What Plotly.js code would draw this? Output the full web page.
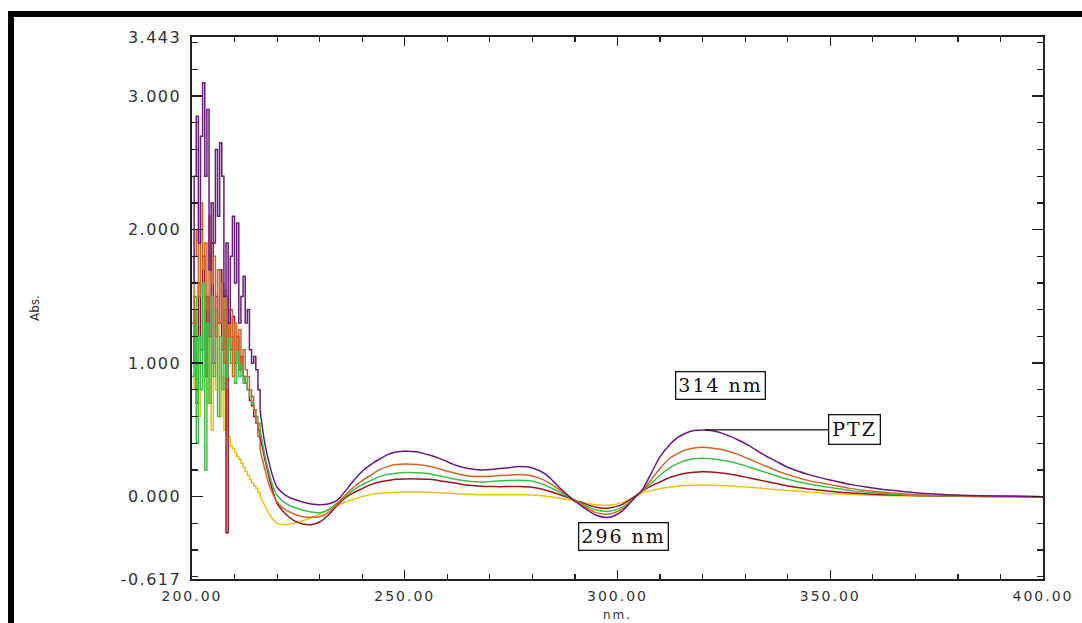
<!DOCTYPE html>
<html>
<head>
<meta charset="utf-8">
<script src="https://cdn.plot.ly/plotly-3.0.1.min.js"></script>
<style>
  html, body { margin: 0; padding: 0; background: #ffffff; }
  #chart { width: 1082px; height: 623px; }
  .xtick text, .ytick text { letter-spacing: 1.5px; }
  .xtick text { letter-spacing: 2px; }
  .annotation-text { letter-spacing: 2px; }
</style>
</head>
<body>
<div id="chart"></div>
<script>
// ---------- DATA ----------
const seriesNames = ["S1", "S2", "S3", "S4", "S5"];
const seriesColors = ["#6a1a7e", "#d2642a", "#3fbf4a", "#9a1620", "#e8c21a"];

// noisy low-wavelength region (nm)
const wlNoise = [200, 200.5, 201, 201.5, 202, 202.5, 203, 203.5, 204, 204.5, 205, 205.5, 206, 206.5, 207, 207.5,
                 208, 208.5, 209, 209.5, 210, 210.5, 211, 211.5, 212, 212.5, 213, 213.5, 214, 214.5, 215, 215.5, 216];

const purpleNoise = [1.6, 2.4, 2.85, 1.9, 2.7, 3.1, 2.4, 2.9, 1.7, 2.2, 1.9, 2.6, 2.1, 2.65, 2.4, 1.5,
                     1.9, 1.3, 1.8, 2.1, 1.6, 2.05, 1.3, 1.5, 1.65, 1.3, 1.4, 1.1, 1.0, 1.05, 0.95, 0.8, 0.65];
const orangeNoise = [1.3, 1.8, 2.0, 1.5, 2.2, 1.7, 1.9, 1.4, 2.1, 1.6, 1.8, 1.2, 1.7, 1.3, 1.6, 1.0,
                     1.5, 1.2, 1.4, 0.9, 1.3, 1.1, 1.25, 1.0, 1.1, 0.95, 0.9, 0.8, 0.75, 0.65, 0.55, 0.45, 0.35];
const greenNoise  = [0.9, 1.5, 0.4, 1.2, 0.8, 1.6, 0.2, 1.3, 0.7, 1.5, 0.9, 1.4, 0.6, 1.2, 0.8, 1.55,
                     0.9, 1.3, 1.0, 1.2, 0.85, 1.1, 0.9, 1.0, 0.85, 0.9, 0.8, 0.75, 0.7, 0.65, 0.6, 0.55, 0.5];
const redNoise    = [1.0, 1.4, 0.7, 1.6, 1.1, 1.8, 0.9, 1.5, 1.2, 1.9, 1.0, 1.5, 1.3, 1.7, 1.1, 1.4,
                     -0.27, 1.3, 1.1, 1.35, 1.0, 1.2, 0.95, 1.05, 0.9, 0.85, 0.8, 0.72, 0.68, 0.6, 0.55, 0.5, 0.45];
const yellowNoise = [1.2, 0.8, 1.4, 0.6, 1.1, 0.9, 1.5, 0.7, 1.2, 0.5, 1.0, 0.8, 1.3, 0.6, 0.9, 0.5,
                     0.8, 0.45, 0.38, 0.36, 0.33, 0.3, 0.28, 0.25, 0.22, 0.19, 0.16, 0.13, 0.1, 0.08, 0.06, 0.03, 0.0];

// smooth region (nm)
const wlSmooth = [216, 217, 218, 219, 220, 222, 224, 226, 228, 230,
                  232, 234, 236, 238, 240, 242, 244, 246, 248, 250,
                  253, 256, 259, 262, 265, 268, 271, 274, 277, 280,
                  283, 286, 289, 292, 295, 298, 301, 304, 306, 308,
                  310, 312, 314, 316, 318, 320, 322, 325, 328, 331,
                  334, 337, 340, 345, 350, 355, 360, 365, 370, 380,
                  390, 400];

const purpleSmooth = [0.65, 0.42, 0.27, 0.15, 0.07, 0.01, -0.02, -0.04, -0.055, -0.06,
                      -0.055, -0.03, 0.04, 0.12, 0.19, 0.24, 0.28, 0.315, 0.335, 0.34,
                      0.335, 0.31, 0.275, 0.235, 0.21, 0.20, 0.205, 0.215, 0.225, 0.215,
                      0.17, 0.08, -0.01, -0.08, -0.14, -0.155, -0.11, -0.01, 0.06, 0.18,
                      0.30, 0.38, 0.44, 0.475, 0.495, 0.50, 0.495, 0.47, 0.43, 0.38,
                      0.32, 0.27, 0.22, 0.165, 0.125, 0.09, 0.065, 0.045, 0.03, 0.012,
                      0.004, 0.0];
const orangeSmooth = [0.35, 0.22, 0.10, 0.02, -0.04, -0.10, -0.13, -0.15, -0.155, -0.15,
                      -0.12, -0.06, 0.01, 0.07, 0.12, 0.16, 0.20, 0.225, 0.24, 0.245,
                      0.24, 0.225, 0.20, 0.175, 0.155, 0.15, 0.155, 0.16, 0.165, 0.155,
                      0.12, 0.06, -0.005, -0.07, -0.12, -0.13, -0.095, -0.01, 0.05, 0.13,
                      0.21, 0.28, 0.32, 0.35, 0.365, 0.37, 0.365, 0.35, 0.32, 0.28,
                      0.24, 0.20, 0.165, 0.12, 0.09, 0.06, 0.04, 0.025, 0.015, 0.006,
                      0.002, 0.0];
const greenSmooth  = [0.50, 0.33, 0.19, 0.08, 0.01, -0.05, -0.08, -0.10, -0.115, -0.12,
                      -0.10, -0.05, 0.0, 0.05, 0.09, 0.12, 0.15, 0.165, 0.175, 0.18,
                      0.178, 0.17, 0.15, 0.13, 0.115, 0.11, 0.115, 0.12, 0.122, 0.115,
                      0.085, 0.04, -0.01, -0.06, -0.10, -0.11, -0.08, -0.01, 0.05, 0.10,
                      0.16, 0.21, 0.245, 0.27, 0.283, 0.287, 0.283, 0.27, 0.25, 0.22,
                      0.19, 0.16, 0.13, 0.095, 0.068, 0.045, 0.03, 0.018, 0.01, 0.004,
                      0.001, 0.0];
const redSmooth    = [0.45, 0.30, 0.16, 0.04, -0.05, -0.13, -0.18, -0.205, -0.21, -0.19,
                      -0.14, -0.07, -0.01, 0.03, 0.06, 0.09, 0.11, 0.12, 0.13, 0.133,
                      0.133, 0.13, 0.115, 0.10, 0.085, 0.077, 0.075, 0.075, 0.076, 0.07,
                      0.05, 0.02, -0.015, -0.05, -0.08, -0.085, -0.06, 0.0, 0.045, 0.08,
                      0.11, 0.14, 0.16, 0.175, 0.183, 0.187, 0.185, 0.175, 0.16, 0.14,
                      0.12, 0.10, 0.08, 0.058, 0.04, 0.027, 0.018, 0.012, 0.008, 0.003,
                      0.001, 0.0];
const yellowSmooth = [0.0, -0.06, -0.12, -0.17, -0.20, -0.21, -0.20, -0.18, -0.16, -0.13,
                      -0.10, -0.07, -0.04, -0.02, 0.0, 0.015, 0.025, 0.03, 0.033, 0.035,
                      0.035, 0.033, 0.028, 0.022, 0.018, 0.015, 0.014, 0.014, 0.014, 0.012,
                      0.005, -0.01, -0.025, -0.045, -0.06, -0.065, -0.045, 0.0, 0.03, 0.045,
                      0.06, 0.07, 0.078, 0.083, 0.086, 0.087, 0.086, 0.082, 0.076, 0.07,
                      0.062, 0.054, 0.046, 0.034, 0.024, 0.016, 0.01, 0.006, 0.004, 0.002,
                      0.0, 0.0];

const xTickVals = [200, 250, 300, 350, 400];
const xTickText = ["200.00", "250.00", "300.00", "350.00", "400.00"];
const yTickVals = [-0.617, 0, 1, 2, 3, 3.443];
const yTickText = ["-0.617", "0.000", "1.000", "2.000", "3.000", "3.443"];
const xRange = [200, 400];
const yRange = [-0.617, 3.443];

const xTitle = "nm.";
const yTitle = "Abs.";
const labelPeak = "314 nm";
const labelTrough = "296 nm";
const labelDrug = "PTZ";

// ---------- TRACES ----------
const noiseSets = [purpleNoise, orangeNoise, greenNoise, redNoise, yellowNoise];
const smoothSets = [purpleSmooth, orangeSmooth, greenSmooth, redSmooth, yellowSmooth];
const traces = [];
const order = [4, 3, 2, 1, 0];
order.forEach(i => {
  traces.push({
    x: wlNoise, y: noiseSets[i], type: "scatter", mode: "lines",
    name: seriesNames[i], showlegend: false, hoverinfo: "skip",
    line: { color: seriesColors[i], width: 1.5, shape: "hv" }
  });
});
order.forEach(i => {
  traces.push({
    x: wlSmooth, y: smoothSets[i], type: "scatter", mode: "lines",
    name: seriesNames[i], showlegend: false,
    line: { color: seriesColors[i], width: 1.5, shape: "spline", smoothing: 0.8 }
  });
});

// ---------- LAYOUT ----------
const tickFont = { family: "DejaVu Sans, Arial, sans-serif", size: 16, color: "#333333" };
const xTickFont = { family: "DejaVu Sans, Arial, sans-serif", size: 14, color: "#333333" };
const annFont = { family: "DejaVu Serif, Liberation Serif, serif", size: 19, color: "#111111" };

const layout = {
  width: 1082, height: 623,
  margin: { l: 192, r: 39, t: 37, b: 44 },
  paper_bgcolor: "#ffffff",
  plot_bgcolor: "#ffffff",
  showlegend: false,
  xaxis: {
    range: xRange, showgrid: false, zeroline: false,
    showline: true, linecolor: "#222222", linewidth: 1.6, mirror: "ticks",
    ticks: "inside", ticklen: 9, tickwidth: 1.4, tickcolor: "#222222",
    tickmode: "array", tickvals: xTickVals, ticktext: xTickText,
    tickfont: xTickFont, ticklabelstandoff: 4,
    minor: { ticks: "inside", dtick: 10, tick0: 200, ticklen: 5, tickwidth: 1.2, tickcolor: "#222222", showgrid: false }
  },
  yaxis: {
    range: yRange, showgrid: false, zeroline: false,
    showline: true, linecolor: "#222222", linewidth: 1.6, mirror: "ticks",
    ticks: "inside", ticklen: 11, tickwidth: 1.4, tickcolor: "#222222",
    tickmode: "array", tickvals: yTickVals, ticktext: yTickText,
    tickfont: tickFont, ticklabelstandoff: 6,
    minor: { ticks: "inside", dtick: 0.2, tick0: 0, ticklen: 6, tickwidth: 1.2, tickcolor: "#222222", showgrid: false },
    title: { text: yTitle, font: { family: "DejaVu Sans, Arial, sans-serif", size: 12, color: "#333333" }, standoff: 78 }
  },
  shapes: [
    { type: "rect", xref: "paper", yref: "paper", x0: -0.2162, x1: 1.05, y0: 1.037, y1: 1.048,
      fillcolor: "#000000", line: { width: 0 }, layer: "above" },
    { type: "rect", xref: "paper", yref: "paper", x0: -0.2162, x1: -0.2092, y0: -0.1, y1: 1.048,
      fillcolor: "#000000", line: { width: 0 }, layer: "above" }
  ],
  annotations: [
    { x: 0.5, y: 0, xref: "paper", yref: "paper", yanchor: "bottom", yshift: -44, text: xTitle,
      showarrow: false, borderpad: 0, font: { family: "DejaVu Sans, Arial, sans-serif", size: 12, color: "#333333" } },
    { x: 324.1, y: 0.83, xref: "x", yref: "y", text: labelPeak, showarrow: false,
      font: annFont, bordercolor: "#111111", borderwidth: 1.3, borderpad: 2, bgcolor: "#ffffff" },
    { x: 301.5, y: -0.30, xref: "x", yref: "y", text: labelTrough, showarrow: false,
      font: annFont, bordercolor: "#111111", borderwidth: 1.3, borderpad: 2, bgcolor: "#ffffff" },
    { x: 320.6, y: 0.50, xref: "x", yref: "y", ax: 355.8, ay: 0.50, axref: "x", ayref: "y",
      text: labelDrug, showarrow: true, arrowhead: 0, arrowwidth: 1.2, arrowcolor: "#111111",
      font: annFont, bordercolor: "#111111", borderwidth: 1.3, borderpad: 3, bgcolor: "#ffffff" }
  ]
};

Plotly.newPlot("chart", traces, layout, { staticPlot: true, displayModeBar: false });
</script>
</body>
</html>
